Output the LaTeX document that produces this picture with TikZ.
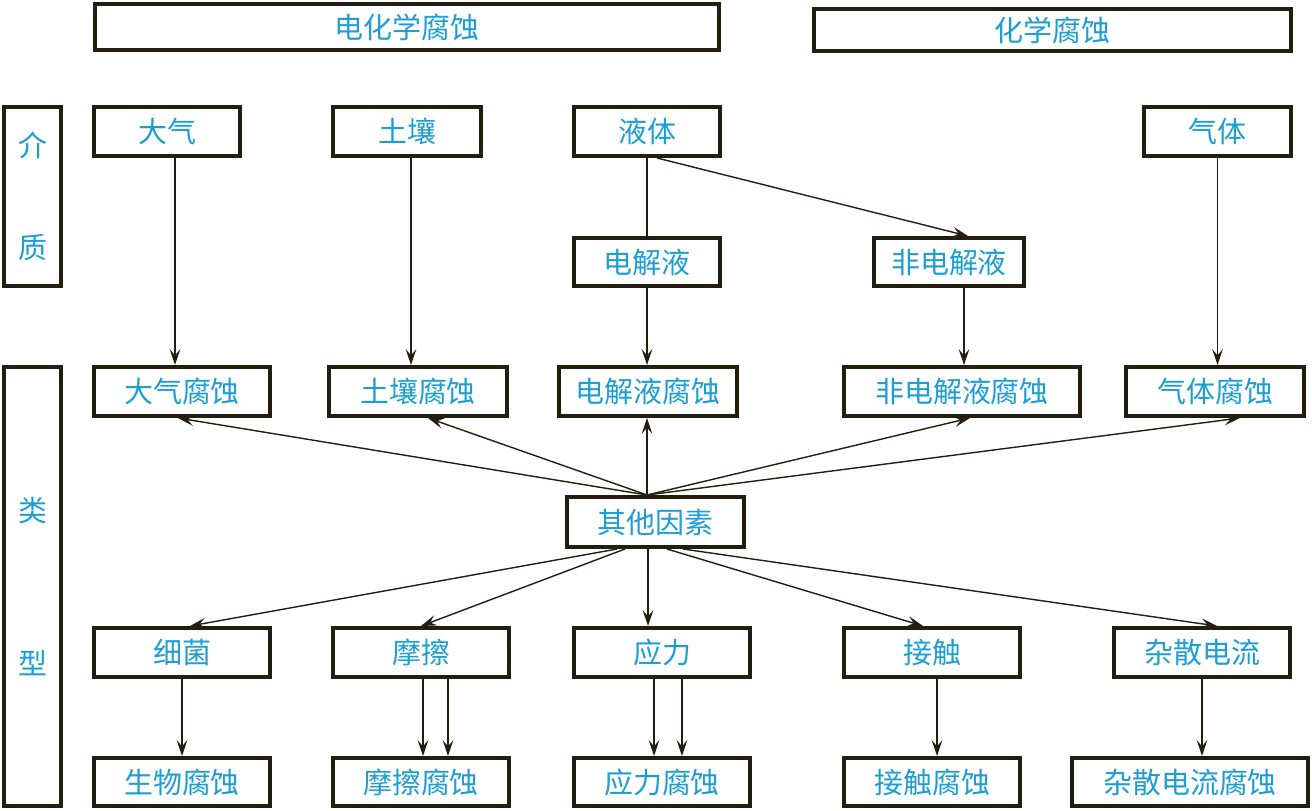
\documentclass[tikz,border=0pt]{standalone}
\usepackage{fontspec}
\usetikzlibrary{arrows.meta}
\newfontfamily\cjk{Noto Sans CJK SC}
\definecolor{txtblue}{RGB}{28,158,210}
\definecolor{edge}{RGB}{35,30,15}
\tikzset{
	box/.style={draw=edge, line width=2pt, inner sep=0pt, text=txtblue, font=\cjk\fontsize{16.5}{19}\selectfont},
	sz/.style 2 args={minimum width=#1cm, minimum height=#2cm},
	arr/.style={draw=edge, line width=0.8pt, -{Stealth[length=9pt,width=6pt,inset=3.5pt]}},
	ln/.style={draw=edge, line width=0.8pt}
}
\begin{document}
\begin{tikzpicture}[x=0.02cm, y=-0.02cm]
	\useasboundingbox (0,0) rectangle (1312,811);
	\draw (407,27) node[box, sz={12.49}{0.93}](ecorr) {电化学腐蚀};
	\draw (1052.5,30) node[box, sz={9.55}{0.85}](ccorr) {化学腐蚀};
	\draw (32.5,196.5) node[box, sz={1.15}{3.59}, align=center](medium) {介\\[1.38cm]质};
	\draw (32.5,586.5) node[box, sz={1.15}{8.79}, align=center](kind) {类\\[2.38cm]型};
	\draw (167,131.5) node[box, sz={2.93}{0.99}](atm) {大气};
	\draw (407,131.5) node[box, sz={2.97}{0.99}](soil) {土壤};
	\draw (647,131.5) node[box, sz={2.93}{0.99}](liquid) {液体};
	\draw (1217.5,131.5) node[box, sz={2.95}{0.99}](gas) {气体};
	\draw (647,262) node[box, sz={2.93}{0.97}](elec) {电解液};
	\draw (949,262) node[box, sz={3.01}{0.97}](nonelec) {非电解液};
	\draw (182,391.5) node[box, sz={3.53}{0.99}](atmc) {大气腐蚀};
	\draw (418,391.5) node[box, sz={3.57}{0.99}](soilc) {土壤腐蚀};
	\draw (648,391.5) node[box, sz={3.57}{0.99}](elecc) {电解液腐蚀};
	\draw (962,391.5) node[box, sz={4.73}{0.99}](nonelecc) {非电解液腐蚀};
	\draw (1215,391.5) node[box, sz={3.57}{0.99}](gasc) {气体腐蚀};
	\draw (655.5,522) node[box, sz={3.55}{1.01}](other) {其他因素};
	\draw (182,652.5) node[box, sz={3.53}{0.99}](bact) {细菌};
	\draw (421,652.5) node[box, sz={3.53}{0.99}](fric) {摩擦};
	\draw (662,652.5) node[box, sz={3.53}{0.99}](stress) {应力};
	\draw (932,652.5) node[box, sz={3.53}{0.99}](contact) {接触};
	\draw (1202,652.5) node[box, sz={3.53}{0.99}](stray) {杂散电流};
	\draw (182,782) node[box, sz={3.53}{0.97}](bioc) {生物腐蚀};
	\draw (421,782) node[box, sz={3.53}{0.97}](fricc) {摩擦腐蚀};
	\draw (662,782) node[box, sz={3.53}{0.97}](stressc) {应力腐蚀};
	\draw (932,782) node[box, sz={3.53}{0.97}](contactc) {接触腐蚀};
	\draw (1190,782) node[box, sz={4.73}{0.97}](strayc) {杂散电流腐蚀};
	\draw[arr] ([xshift=0.16cm]atm.south) -- ([xshift=0.16cm]atm.south |- atmc.north);
	\draw[arr] ([xshift=0.08cm]soil.south) -- ([xshift=0.08cm]soil.south |- soilc.north);
	\draw[ln] (liquid.south) -- (elec.north);
	\draw[arr] ([xshift=0.2cm]liquid.south) -- ([xshift=0.38cm]nonelec.north);
	\draw[arr] (elec.south) -- (elec.south |- elecc.north);
	\draw[arr] ([xshift=0.3cm]nonelec.south) -- ([xshift=0.3cm]nonelec.south |- nonelecc.north);
	\draw[arr] (gas.south) -- (gas.south |- gasc.north);
	\draw[arr] ([xshift=-0.17cm]other.north) -- ([xshift=-0.08cm]atmc.south);
	\draw[arr] ([xshift=-0.17cm]other.north) -- ([xshift=0.2cm]soilc.south);
	\draw[arr] ([xshift=-0.17cm]other.north) -- ([xshift=-0.17cm]other.north |- elecc.south);
	\draw[arr] ([xshift=-0.17cm]other.north) -- ([xshift=0.16cm]nonelecc.south);
	\draw[arr] ([xshift=-0.17cm]other.north) -- ([xshift=0.5cm]gasc.south);
	\draw[arr] ([xshift=-0.77cm]other.south) -- ([xshift=0.16cm]bact.north);
	\draw[arr] ([xshift=-0.61cm]other.south) -- (fric.north);
	\draw[arr] ([xshift=-0.15cm]other.south) -- ([xshift=-0.15cm]other.south |- stress.north);
	\draw[arr] ([xshift=0.23cm]other.south) -- ([xshift=-0.18cm]contact.north);
	\draw[arr] ([xshift=0.55cm]other.south) -- ([xshift=0.3cm]stray.north);
	\draw[arr] (bact.south) -- (bact.south |- bioc.north);
	\draw[arr] ([xshift=0.04cm]fric.south) -- ([xshift=0.04cm]fric.south |- fricc.north);
	\draw[arr] ([xshift=0.54cm]fric.south) -- ([xshift=0.54cm]fric.south |- fricc.north);
	\draw[arr] ([xshift=-0.16cm]stress.south) -- ([xshift=-0.16cm]stress.south |- stressc.north);
	\draw[arr] ([xshift=0.4cm]stress.south) -- ([xshift=0.4cm]stress.south |- stressc.north);
	\draw[arr] ([xshift=0.1cm]contact.south) -- ([xshift=0.1cm]contact.south |- contactc.north);
	\draw[arr] (stray.south) -- (stray.south |- strayc.north);
\end{tikzpicture}
\end{document}
